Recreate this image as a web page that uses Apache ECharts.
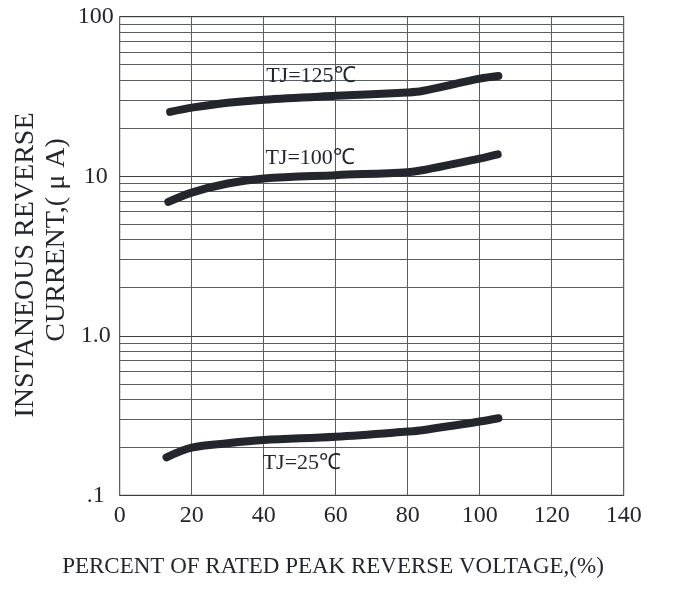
<!DOCTYPE html>
<html>
<head>
<meta charset="utf-8">
<script src="https://cdn.jsdelivr.net/npm/echarts@6/dist/echarts.min.js"></script>
<style>
html,body{margin:0;padding:0;background:#fff;}
#chart{width:690px;height:595px;}
</style>
</head>
<body>
<div id="chart"></div>
<script>
// Data
const xTicks = [0, 20, 40, 60, 80, 100, 120, 140];
const yTickLabels = {0.1: '.1', 1: '1.0', 10: '10', 100: '100'};

const x125 = [14, 20, 30, 40, 60, 80, 84, 100, 105.2];
const y125 = [25.3, 26.9, 28.9, 30.2, 31.9, 33.5, 34.2, 40.9, 42.5];

const x100 = [13.5, 20, 30, 40, 60, 80, 84, 100, 105];
const y100 = [6.9, 7.9, 9.0, 9.67, 10.15, 10.6, 10.9, 12.9, 13.7];

const x25 = [13, 20, 30, 40, 60, 80, 84, 100, 105.2];
const y25 = [0.173, 0.199, 0.212, 0.222, 0.233, 0.251, 0.256, 0.290, 0.304];

const curveLabels = ['TJ=125℃', 'TJ=100℃', 'TJ=25℃'];
const labelX = [53.1, 52.9, 50.6];
const labelY = [42.3, 12.97, 0.1595];

const decades = [0.1, 1, 10];
const minorMultipliers = [2, 3, 4, 5, 6, 7, 8, 9];

const TXT = '#23262c';
const GRID = '#5a5d62';
const FONT = '"Liberation Serif", "Times New Roman", serif';

function zip(xs, ys) { return xs.map((x, i) => [x, ys[i]]); }

const minorLines = [];
decades.forEach(d => minorMultipliers.forEach(m => minorLines.push({yAxis: +(d * m).toPrecision(3)})));

const curveStyle = {color: TXT, width: 8, cap: 'round', join: 'round'};

const chart = echarts.init(document.getElementById('chart'));
chart.setOption({
  animation: false,
  backgroundColor: '#fff',
  grid: {left: 119.7, right: 66.3, top: 16.7, bottom: 99.7, show: true, borderColor: '#2e3136', borderWidth: 1},
  xAxis: {
    type: 'value', min: 0, max: 140, interval: 20,
    axisLine: {show: false}, axisTick: {show: false},
    splitLine: {show: true, lineStyle: {color: GRID, width: 1}},
    axisLabel: {fontFamily: FONT, fontSize: 24, color: TXT, margin: 8,
      formatter: v => xTicks.includes(v) ? String(v) : ''}
  },
  yAxis: {
    type: 'log', logBase: 10, min: 0.1, max: 100,
    axisLine: {show: false}, axisTick: {show: false},
    splitLine: {show: true, lineStyle: {color: '#3a3d42', width: 1}},
    axisLabel: {fontFamily: FONT, fontSize: 24, color: TXT, margin: 24, align: 'center',
      formatter: v => yTickLabels[+v.toPrecision(3)] || ''}
  },
  graphic: [
    {type: 'text', x: 26, y: 265, rotation: Math.PI / 2,
      style: {text: 'INSTANEOUS REVERSE', font: '28px ' + FONT, fill: TXT, align: 'center', verticalAlign: 'middle'}},
    {type: 'text', x: 57, y: 240, rotation: Math.PI / 2,
      style: {text: 'CURRENT,( μ A)', font: '28px ' + FONT, fill: TXT, align: 'center', verticalAlign: 'middle'}},
    {type: 'text', x: 333, y: 567,
      style: {text: 'PERCENT OF RATED PEAK REVERSE VOLTAGE,(%)', font: '23px ' + FONT, fill: TXT, align: 'center', verticalAlign: 'middle'}}
  ],
  series: [
    {type: 'line', data: [], silent: true,
      markLine: {silent: true, symbol: 'none', label: {show: false}, animation: false,
        lineStyle: {color: GRID, width: 1, type: 'solid'}, data: minorLines}},
    {type: 'line', data: zip(x125, y125), smooth: 0.35, showSymbol: false, lineStyle: curveStyle, z: 5},
    {type: 'line', data: zip(x100, y100), smooth: 0.35, showSymbol: false, lineStyle: curveStyle, z: 5},
    {type: 'line', data: zip(x25, y25), smooth: 0.35, showSymbol: false, lineStyle: curveStyle, z: 5},
    {type: 'scatter', symbolSize: 0, z: 6, itemStyle: {opacity: 1},
      data: curveLabels.map((t, i) => ({value: [labelX[i], labelY[i]], name: t})),
      label: {show: true, position: 'inside', formatter: p => p.name,
        fontFamily: FONT, fontSize: 22, color: TXT, opacity: 1}}
  ]
});
</script>
</body>
</html>
